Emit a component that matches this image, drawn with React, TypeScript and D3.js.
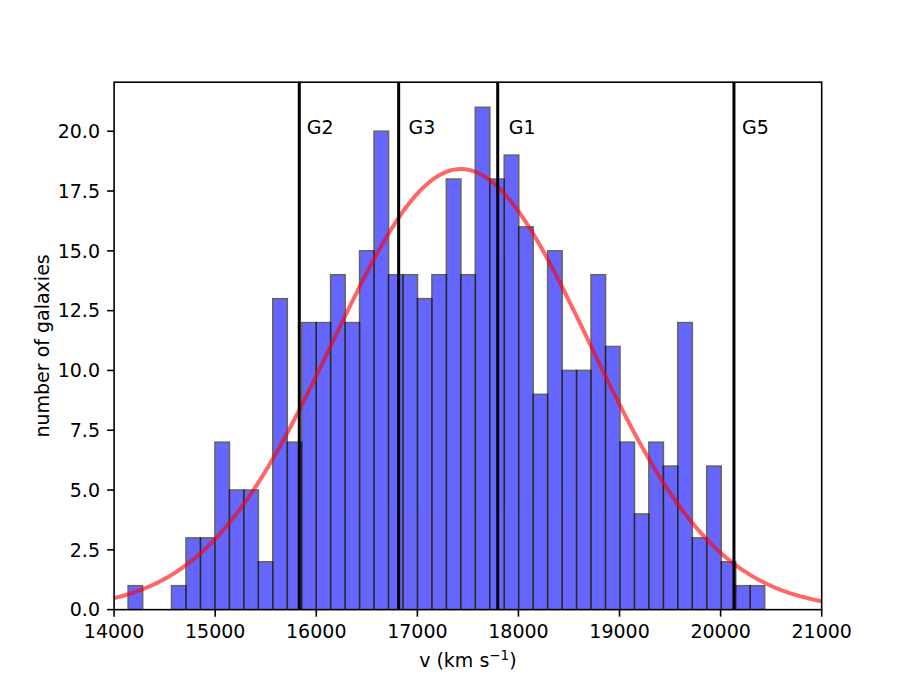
import React, { useEffect } from "react";
import * as d3 from "d3";

// ---- data ----
const binStart = 14139; // km/s, left edge of first bin
const binWidth = 143.1; // km/s
const counts = [
  1, 0, 0, 1, 3, 3, 7, 5, 5, 2,
  13, 7, 12, 12, 14, 12, 15, 20, 14, 14,
  13, 14, 18, 14, 21, 18, 19, 16, 9, 15,
  10, 10, 14, 11, 7, 4, 7, 6, 12, 3,
  6, 2, 1, 1,
];
const groupNames = ["G2", "G3", "G1", "G5"];
const groupVel = [15832, 16815, 17795, 20132];
const groupLabelX = [15905, 16912, 17905, 20212];
const fitMean = 17430;
const fitSigma = 1270;
const fitAmp = 18.42;
const xTicks = [14000, 15000, 16000, 17000, 18000, 19000, 20000, 21000];
const yTicks = [0, 2.5, 5, 7.5, 10, 12.5, 15, 17.5, 20];

const W = 913;
const H = 685;
const M = { left: 114.1, right: 821.7, top: 82.2, bottom: 609.65 };
const FONT = "DejaVu Sans, sans-serif";
const FS = 19;

export default function App() {
  useEffect(() => {
    document.body.style.margin = "0";
  }, []);

  const x = d3.scaleLinear().domain([14000, 21000]).range([M.left, M.right]);
  const y = d3.scaleLinear().domain([0, 22.05]).range([M.bottom, M.top]);

  const bins = counts.map((c, i) => ({
    x0: binStart + i * binWidth,
    x1: binStart + (i + 1) * binWidth,
    c,
  }));

  const curveX = d3.range(14000, 21000 + 1, 25);
  const curvePts = curveX.map((v) => [
    v,
    fitAmp * Math.exp(-((v - fitMean) ** 2) / (2 * fitSigma * fitSigma)),
  ]);
  const line = d3
    .line<number[]>()
    .x((d) => x(d[0]))
    .y((d) => y(d[1]));

  return (
    <svg
      width={W}
      height={H}
      style={{ display: "block", background: "#fff" }}
      fontFamily={FONT}
    >
      <defs>
        <clipPath id="plotclip">
          <rect x={M.left} y={M.top} width={M.right - M.left} height={M.bottom - M.top} />
        </clipPath>
      </defs>
      <rect x={0} y={0} width={W} height={H} fill="#fff" />
      <g clipPath="url(#plotclip)">
        {bins
          .filter((b) => b.c > 0)
          .map((b, i) => (
            <rect
              key={i}
              x={x(b.x0)}
              y={y(b.c)}
              width={x(b.x1) - x(b.x0)}
              height={y(0) - y(b.c)}
              fill="blue"
              stroke="black"
              strokeWidth={1.6}
              opacity={0.6}
            />
          ))}
        <path
          d={line(curvePts) || ""}
          fill="none"
          stroke="red"
          strokeWidth={4}
          opacity={0.6}
        />
        {groupVel.map((v, i) => (
          <line
            key={i}
            x1={x(v)}
            x2={x(v)}
            y1={M.top}
            y2={M.bottom}
            stroke="black"
            strokeWidth={3}
          />
        ))}
      </g>
      {groupNames.map((n, i) => (
        <text key={n} x={x(groupLabelX[i])} y={y(19.88)} fontSize={FS} fill="#000">
          {n}
        </text>
      ))}
      {/* spines */}
      <rect
        x={M.left}
        y={M.top}
        width={M.right - M.left}
        height={M.bottom - M.top}
        fill="none"
        stroke="black"
        strokeWidth={1.6}
      />
      {/* x ticks */}
      {xTicks.map((t) => (
        <g key={t}>
          <line x1={x(t)} x2={x(t)} y1={M.bottom} y2={M.bottom + 7} stroke="black" strokeWidth={1.6} />
          <text x={x(t)} y={638} fontSize={FS} textAnchor="middle" fill="#000">
            {t}
          </text>
        </g>
      ))}
      {/* y ticks */}
      {yTicks.map((t) => (
        <g key={t}>
          <line x1={M.left - 7} x2={M.left} y1={y(t)} y2={y(t)} stroke="black" strokeWidth={1.6} />
          <text x={100} y={y(t) + 6.8} fontSize={FS} textAnchor="end" fill="#000">
            {d3.format(".1f")(t)}
          </text>
        </g>
      ))}
      <text x={(M.left + M.right) / 2} y={667} fontSize={FS} textAnchor="middle" fill="#000">
        v (km s
        <tspan dy={-7} fontSize={13.5}>
          −1
        </tspan>
        <tspan dy={7}>)</tspan>
      </text>
      <text
        transform={`translate(49, ${(M.top + M.bottom) / 2}) rotate(-90)`}
        fontSize={FS}
        textAnchor="middle"
        fill="#000"
      >
        number of galaxies
      </text>
    </svg>
  );
}
